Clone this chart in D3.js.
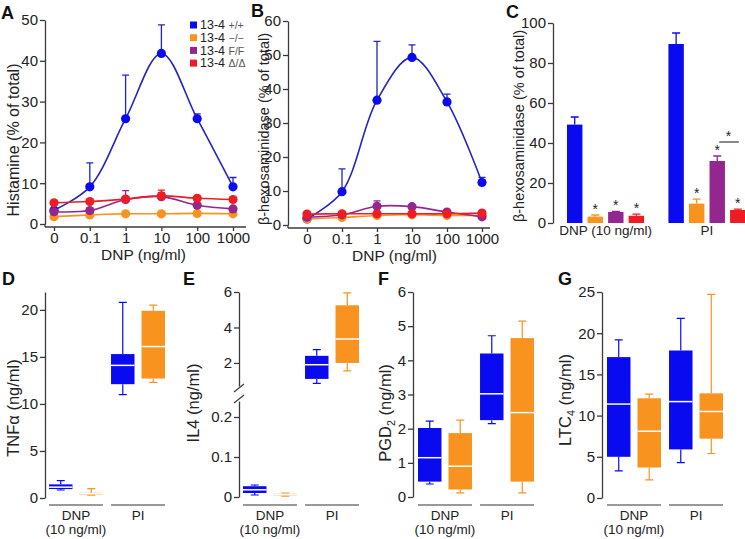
<!DOCTYPE html>
<html>
<head>
<meta charset="utf-8">
<script src="https://cdn.jsdelivr.net/npm/d3@7"></script>
<style>
body { margin: 0; background: #fff; }
svg { display: block; font-family: "Liberation Sans", Arial, sans-serif; }
</style>
</head>
<body>
<div id="fig"></div>
<script>
// doses, "0" is drawn at the 0.01 position of the log axis
var doses = [0.01, 0.1, 1, 10, 100, 1000]
var doseLabels = ['0', '0.1', '1', '10', '100', '1000']
var genotypes = ['+/+', '\u2212/\u2212', 'F/F', '\u0394/\u0394']
var colors = ['#0a0af0', '#f7931e', '#93278f', '#ee1c24']
var lineColors = ['#2424c4', '#f7931e', '#93278f', '#ee1c24']

// A: histamine release (% of total), mean and upper SEM
var histWT = [3.4, 9.1, 25.8, 41.8, 25.8, 9.1]
var histWTErr = [0.3, 5.9, 10.7, 7.0, 1.2, 2.3]
var histKO = [1.8, 2.2, 2.5, 2.5, 2.6, 2.5]
var histKOErr = [0.2, 0.2, 0.2, 0.2, 0.2, 0.2]
var histFF = [3.0, 3.3, 6.0, 6.7, 4.6, 3.7]
var histFFErr = [0.3, 0.3, 2.2, 1.0, 0.3, 0.3]
var histDD = [5.2, 5.5, 6.1, 6.9, 6.3, 6.0]
var histDDErr = [0.3, 0.3, 0.4, 1.4, 0.3, 0.3]

// B: beta-hexosaminidase release (% of total)
var hexWT = [1.8, 9.8, 36.7, 49.3, 36.2, 12.5]
var hexWTErr = [0.3, 6.7, 17.3, 3.7, 2.3, 1.5]
var hexKO = [1.8, 2.2, 2.8, 3.0, 2.8, 2.8]
var hexKOErr = [0.2, 0.2, 0.2, 0.2, 0.2, 0.2]
var hexFF = [2.3, 3.0, 5.5, 5.4, 3.8, 2.4]
var hexFFErr = [0.3, 0.4, 1.6, 0.5, 0.4, 0.3]
var hexDD = [3.2, 3.3, 3.3, 3.3, 3.3, 3.5]
var hexDDErr = [0.3, 0.3, 0.3, 0.3, 0.3, 0.3]

// C: beta-hexosaminidase, DNP 10 ng/ml vs PI
var stimuli = ['DNP (10 ng/ml)', 'PI']
var barDNP = [49.2, 3.2, 5.5, 3.6]
var barDNPErr = [3.8, 0.8, 0.3, 0.8]
var barPI = [89.5, 9.7, 31.0, 6.5]
var barPIErr = [5.5, 2.2, 2.5, 0.4]
var barStars = [false, true, true, true]

// D-G: boxes [min, q1, median, q3, max]; order +/+ DNP, -/- DNP, +/+ PI, -/- PI
var groups = ['DNP', 'PI']
var boxGenotypes = ['+/+', '\u2212/\u2212']
var tnfBoxes = [[0.85, 0.95, 1.15, 1.45, 1.85], [0.3, 0.35, 0.45, 0.55, 1.0],
                [11.0, 12.1, 14.1, 15.3, 20.8], [12.3, 12.7, 16.1, 19.9, 20.5]]
var il4Boxes = [[0.005, 0.01, 0.018, 0.027, 0.03], [0.002, 0.004, 0.006, 0.008, 0.01],
                [0.85, 1.1, 1.9, 2.4, 2.75], [1.55, 2.0, 3.35, 5.25, 5.95]]
var pgdBoxes = [[0.38, 0.45, 1.15, 2.02, 2.22], [0.12, 0.22, 0.9, 1.87, 2.25],
                [2.15, 2.25, 3.02, 4.2, 4.72], [0.12, 0.45, 2.47, 4.65, 5.15]]
var ltcBoxes = [[3.3, 5.0, 11.4, 17.1, 19.2], [2.2, 3.7, 8.1, 12.1, 12.6],
                [4.3, 5.9, 11.7, 17.9, 21.8], [5.4, 7.2, 10.5, 12.7, 24.7]]

var axisColor = '#3a3a3a'
var textColor = '#222'
var tickFont = 15
var titleFont = 15.5

var svg = d3.select('#fig').append('svg')
    .attr('width', 745)
    .attr('height', 539)

function panelLabel (txt, x, y) {
  svg.append('text')
      .attr('x', x)
      .attr('y', y)
      .attr('font-size', 18)
      .attr('font-weight', 'bold')
      .attr('fill', '#111')
      .text(txt)
}

function yTitle (parts, x, y, size) {
  var fs = size || titleFont
  var t = svg.append('text')
      .attr('transform', 'translate(' + x + ',' + y + ') rotate(-90)')
      .attr('text-anchor', 'middle')
      .attr('dy', '0.35em')
      .attr('font-size', fs)
      .attr('fill', textColor)
  parts.forEach(function (p) {
    var s = t.append('tspan').text(p.text)
    if (p.sub) s.attr('font-size', fs * 0.65).attr('dy', 4)
    if (p.after) s.attr('dy', -4)
  })
}

function yAxis (scale, ticks, x, fmt) {
  var g = svg.append('g')
      .attr('transform', 'translate(' + x + ',0)')
      .call(d3.axisLeft(scale).tickValues(ticks).tickSize(5).tickSizeOuter(0).tickPadding(2)
        .tickFormat(fmt || d3.format('')))
  g.select('.domain').attr('stroke', axisColor).attr('stroke-width', 1.3)
  g.selectAll('.tick line').attr('stroke', axisColor).attr('stroke-width', 1.3)
  g.selectAll('.tick text').attr('font-size', tickFont).attr('fill', textColor)
      .attr('font-family', '"Liberation Sans", Arial, sans-serif')
  return g
}

// ---------- dose response panels ----------
function doseChart (o) {
  var x = d3.scaleLog().domain([0.01, 1000]).range(o.xRange)
  var y = d3.scaleLinear().domain(o.yDomain).range(o.yRange)

  yAxis(y, o.yTicks, o.axisX)
  svg.append('line')
      .attr('x1', o.axisX).attr('x2', o.axisX)
      .attr('y1', y(0)).attr('y2', o.xAxisY)
      .attr('stroke', axisColor).attr('stroke-width', 1.3)

  var gx = svg.append('g')
      .attr('transform', 'translate(0,' + o.xAxisY + ')')
      .call(d3.axisBottom(x).tickValues(doses).tickSize(4).tickSizeOuter(0).tickPadding(1)
        .tickFormat(function (d, i) { return doseLabels[i] }))
  gx.select('.domain').remove()
  gx.append('line')
      .attr('x1', o.axisX).attr('x2', o.xEnd)
      .attr('stroke', axisColor).attr('stroke-width', 1.3)
  gx.selectAll('.tick line').attr('stroke', axisColor).attr('stroke-width', 1.3)
  gx.selectAll('.tick text').attr('font-size', tickFont).attr('fill', textColor)
      .attr('font-family', '"Liberation Sans", Arial, sans-serif')

  svg.append('text')
      .attr('x', (o.xRange[0] + o.xRange[1]) / 2)
      .attr('y', o.xAxisY + 33)
      .attr('text-anchor', 'middle')
      .attr('font-size', titleFont)
      .attr('fill', textColor)
      .text('DNP (ng/ml)')

  var line = d3.line()
      .x(function (d) { return x(d.dose) })
      .y(function (d) { return y(d.v) })
      .curve(d3.curveCatmullRom.alpha(0.5))

  o.series.forEach(function (s, k) {
    var pts = doses.map(function (d, i) { return {dose: d, v: s.mean[i], e: s.err[i]} })
    var g = svg.append('g')
    g.append('path')
        .attr('d', line(pts))
        .attr('fill', 'none')
        .attr('stroke', lineColors[k])
        .attr('stroke-width', 1.6)
    g.selectAll('.err').data(pts).enter().append('path')
        .attr('d', function (d) {
          var cx = x(d.dose)
          var top = y(d.v + d.e)
          return 'M' + cx + ',' + y(d.v) + 'V' + top + 'M' + (cx - 3.5) + ',' + top + 'H' + (cx + 3.5)
        })
        .attr('stroke', lineColors[k])
        .attr('stroke-width', 1.3)
        .attr('fill', 'none')
    g.selectAll('circle').data(pts).enter().append('circle')
        .attr('cx', function (d) { return x(d.dose) })
        .attr('cy', function (d) { return y(d.v) })
        .attr('r', 4.6)
        .attr('fill', colors[k])
  })
}

panelLabel('A', 1, 19)
yTitle([{text: 'Histamine (% of total)'}], 13, 140, 16)
doseChart({
  axisX: 45, xEnd: 246, xAxisY: 227,
  xRange: [54, 233], yRange: [224, 20], yDomain: [0, 50], yTicks: [0, 10, 20, 30, 40, 50],
  series: [
    {mean: histWT, err: histWTErr},
    {mean: histKO, err: histKOErr},
    {mean: histFF, err: histFFErr},
    {mean: histDD, err: histDDErr}
  ]
})

// legend
var legend = svg.append('g').attr('transform', 'translate(190,25)')
genotypes.forEach(function (gt, i) {
  var row = legend.append('g').attr('transform', 'translate(0,' + (i * 12.7) + ')')
  row.append('rect').attr('x', 0).attr('y', -3.5).attr('width', 7).attr('height', 7).attr('fill', colors[i])
  var t = row.append('text').attr('x', 10).attr('y', 4.3).attr('font-size', 12.5).attr('fill', textColor)
  t.append('tspan').text('13-4 ')
  t.append('tspan').attr('font-size', 10.5).attr('fill', '#555').text(gt)
})

panelLabel('B', 251, 17)
yTitle([{text: '\u03b2-hexosaminidase (% of total)'}], 264, 129, 14.5)
doseChart({
  axisX: 288, xEnd: 490, xAxisY: 228,
  xRange: [307, 482], yRange: [225, 21], yDomain: [0, 60], yTicks: [0, 10, 20, 30, 40, 50, 60],
  series: [
    {mean: hexWT, err: hexWTErr},
    {mean: hexKO, err: hexKOErr},
    {mean: hexFF, err: hexFFErr},
    {mean: hexDD, err: hexDDErr}
  ]
})

// ---------- C: bars ----------
panelLabel('C', 506, 18)
yTitle([{text: '\u03b2-hexosaminidase (% of total)'}], 519, 126, 14.5)
;(function () {
  var y = d3.scaleLinear().domain([0, 100]).range([223, 23])
  yAxis(y, [0, 20, 40, 60, 80, 100], 553)
  var outer = d3.scaleBand().domain(stimuli).range([567, 745.5]).paddingInner(0.24)
  var inner = d3.scaleBand().domain(genotypes).range([0, outer.bandwidth()]).paddingInner(0.25)
  var sets = [{s: stimuli[0], v: barDNP, e: barDNPErr}, {s: stimuli[1], v: barPI, e: barPIErr}]
  sets.forEach(function (set) {
    var g = svg.append('g').attr('transform', 'translate(' + outer(set.s) + ',0)')
    genotypes.forEach(function (gt, i) {
      var bx = inner(gt)
      var cx = bx + inner.bandwidth() / 2
      var top = y(set.v[i] + set.e[i])
      g.append('path')
          .attr('d', 'M' + cx + ',' + y(set.v[i]) + 'V' + top + 'M' + (cx - 4) + ',' + top + 'H' + (cx + 4))
          .attr('stroke', colors[i]).attr('stroke-width', 1.3).attr('fill', 'none')
      g.append('rect')
          .attr('x', bx).attr('y', y(set.v[i]))
          .attr('width', inner.bandwidth()).attr('height', y(0) - y(set.v[i]))
          .attr('fill', colors[i])
      if (barStars[i]) {
        g.append('text')
            .attr('x', cx).attr('y', top - 1)
            .attr('text-anchor', 'middle')
            .attr('font-size', 14)
            .attr('fill', textColor)
            .text('*')
      }
    })
    svg.append('text')
        .attr('x', outer(set.s) + outer.bandwidth() / 2)
        .attr('y', 235)
        .attr('text-anchor', 'middle')
        .attr('font-size', 13.5)
        .attr('fill', textColor)
        .text(set.s)
  })
  // purple vs red in PI
  var px = outer('PI') + inner(genotypes[2]) + inner.bandwidth() / 2
  var rx = outer('PI') + inner(genotypes[3]) + inner.bandwidth() / 2
  svg.append('line')
      .attr('x1', px + 2).attr('x2', rx + 1)
      .attr('y1', y(40.5)).attr('y2', y(40.5))
      .attr('stroke', axisColor).attr('stroke-width', 1.2)
  svg.append('text')
      .attr('x', (px + rx) / 2 + 1).attr('y', y(40.5) - 1)
      .attr('text-anchor', 'middle').attr('font-size', 14).attr('fill', textColor)
      .text('*')
})()

// ---------- D-G: box plots ----------
function drawBoxes (boxes, yfn, groupStart) {
  var outer = d3.scaleBand().domain(groups).range([groupStart, groupStart + 116]).paddingInner(0.13)
  var inner = d3.scaleBand().domain(boxGenotypes).range([0, outer.bandwidth()]).paddingInner(0.23)
  var bcol = [colors[0], colors[1]]
  boxes.forEach(function (b, i) {
    var grp = groups[Math.floor(i / 2)]
    var gt = boxGenotypes[i % 2]
    var bx = outer(grp) + inner(gt)
    var w = inner.bandwidth()
    var cx = bx + w / 2
    var c = bcol[i % 2]
    svg.append('path')
        .attr('d', 'M' + cx + ',' + yfn(b[4]) + 'V' + yfn(b[3]) + 'M' + cx + ',' + yfn(b[1]) + 'V' + yfn(b[0]) +
          'M' + (cx - 4) + ',' + yfn(b[4]) + 'H' + (cx + 4) + 'M' + (cx - 4) + ',' + yfn(b[0]) + 'H' + (cx + 4))
        .attr('stroke', c).attr('stroke-width', 1.2).attr('fill', 'none')
    svg.append('rect')
        .attr('x', bx).attr('y', yfn(b[3]))
        .attr('width', w).attr('height', yfn(b[1]) - yfn(b[3]))
        .attr('fill', c)
    svg.append('line')
        .attr('x1', bx).attr('x2', bx + w)
        .attr('y1', yfn(b[2])).attr('y2', yfn(b[2]))
        .attr('stroke', '#fff').attr('stroke-width', 1.5)
  })
  groups.forEach(function (grp) {
    var gx0 = outer(grp)
    svg.append('line')
        .attr('x1', gx0).attr('x2', gx0 + outer.bandwidth())
        .attr('y1', 505).attr('y2', 505)
        .attr('stroke', '#777').attr('stroke-width', 1.3)
    svg.append('text')
        .attr('x', gx0 + outer.bandwidth() / 2)
        .attr('y', 520)
        .attr('text-anchor', 'middle')
        .attr('font-size', 13.5)
        .attr('fill', textColor)
        .text(grp)
    if (grp === 'DNP') {
      svg.append('text')
          .attr('x', gx0 + outer.bandwidth() / 2)
          .attr('y', 534)
          .attr('text-anchor', 'middle')
          .attr('font-size', 13.5)
          .attr('fill', textColor)
          .text('(10 ng/ml)')
    }
  })
}

// D
panelLabel('D', 2, 285)
yTitle([{text: 'TNF\u03b1 (ng/ml)'}], 13, 408, 16.5)
;(function () {
  var y = d3.scaleLinear().domain([0, 21.9]).range([498, 292])
  yAxis(y, [0, 5, 10, 15, 20], 45)
  drawBoxes(tnfBoxes, y, 49)
})()

// E (broken axis)
panelLabel('E', 183, 285)
yTitle([{text: 'IL4 (ng/ml)'}], 193, 403, 16.5)
;(function () {
  var yLow = d3.scaleLinear().domain([0, 0.24]).range([497, 401])
  var yHigh = d3.scaleLinear().domain([0.7, 6]).range([386, 292])
  var ax = 239
  yAxis(yLow, [0, 0.1, 0.2], ax, d3.format('.1~f'))
  yAxis(yHigh, [2, 4, 6], ax)
  ;[388, 399].forEach(function (by) {
    svg.append('line')
        .attr('x1', ax - 5).attr('x2', ax + 5)
        .attr('y1', by + 4).attr('y2', by - 4)
        .attr('stroke', axisColor).attr('stroke-width', 1.3)
  })
  var yfn = function (v) { return v < 0.3 ? yLow(v) : yHigh(v) }
  drawBoxes(il4Boxes, yfn, 243)
})()

// F
panelLabel('F', 378, 285)
yTitle([{text: 'PGD'}, {text: '2', sub: true}, {text: ' (ng/ml)', after: true}], 385, 413, 16.5)
;(function () {
  var y = d3.scaleLinear().domain([0, 6]).range([497, 292])
  yAxis(y, [0, 1, 2, 3, 4, 5, 6], 413)
  drawBoxes(pgdBoxes, y, 418)
})()

// G
panelLabel('G', 558, 285)
yTitle([{text: 'LTC'}, {text: '4', sub: true}, {text: ' (ng/ml)', after: true}], 565, 400, 16.5)
;(function () {
  var y = d3.scaleLinear().domain([0, 25]).range([498, 292])
  yAxis(y, [0, 5, 10, 15, 20, 25], 602)
  drawBoxes(ltcBoxes, y, 607)
})()
</script>
</body>
</html>
